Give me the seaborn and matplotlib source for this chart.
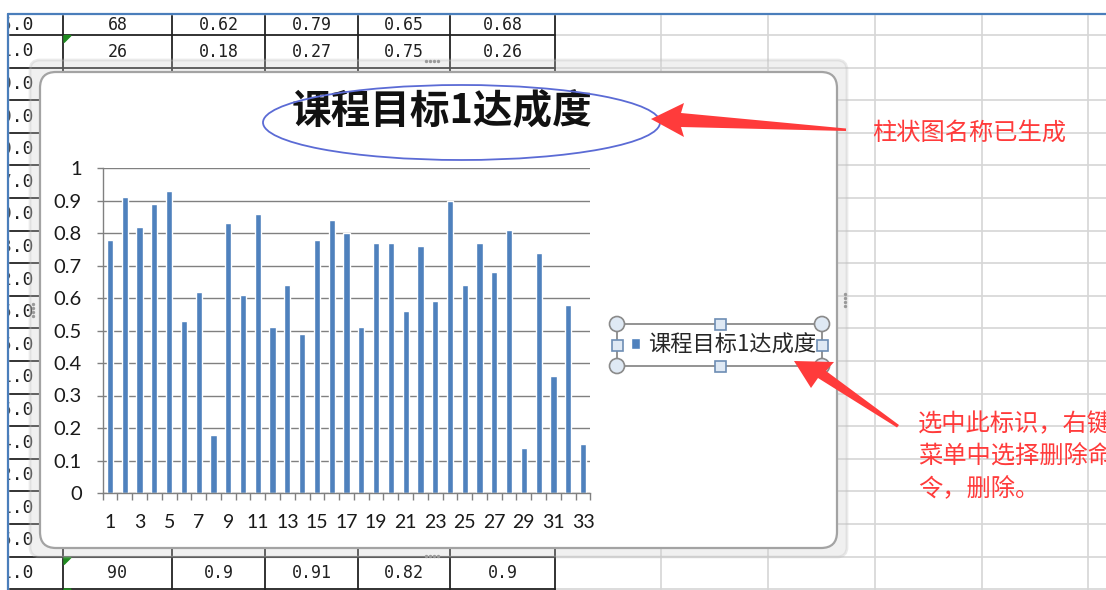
import numpy as np
import pandas as pd
import seaborn as sns
import matplotlib.pyplot as plt
from matplotlib.patches import FancyBboxPatch, Ellipse, Polygon, Rectangle, Circle

# ---- chart data ----
series_name = '课程目标1达成度'
students = [str(i) for i in range(1, 34)]
attainment = [0.78, 0.91, 0.82, 0.89, 0.93, 0.53, 0.62, 0.18, 0.83, 0.61, 0.86,
              0.51, 0.64, 0.49, 0.78, 0.84, 0.80, 0.51, 0.77, 0.77, 0.56, 0.76,
              0.59, 0.90, 0.64, 0.77, 0.68, 0.81, 0.14, 0.74, 0.36, 0.58, 0.15]
y_ticks = [0, 0.1, 0.2, 0.3, 0.4, 0.5, 0.6, 0.7, 0.8, 0.9, 1.0]
y_tick_labels = ['0', '0.1', '0.2', '0.3', '0.4', '0.5', '0.6', '0.7', '0.8', '0.9', '1']
x_tick_labels = [s if int(s) % 2 == 1 else '' for s in students]

# spreadsheet cells visible around the chart
top_rows = [['68', '0.62', '0.79', '0.65', '0.68'],
            ['26', '0.18', '0.27', '0.75', '0.26']]
bottom_row = ['90', '0.9', '0.91', '0.82', '0.9']
left_col = ['95.0', '81.0', '90.0', '90.0', '90.0', '77.0', '90.0', '83.0', '72.0',
            '65.0', '65.0', '81.0', '65.0', '74.0', '72.0', '81.0', '65.0', '81.0']

# callout notes
note_title = '柱状图名称已生成'
note_legend = ['选中此标识，右键', '菜单中选择删除命', '令，删除。']

bar_color = '#4F81BD'
red = '#FF3B3B'
W, H = 1106, 590

sns.set_style('white')
plt.rcParams['font.family'] = ['Lato', 'Noto Sans CJK SC', 'DejaVu Sans']

fig = plt.figure(figsize=(W / 100, H / 100), dpi=100)

# background layer in pixel coordinates (y down)
bg = fig.add_axes([0, 0, 1, 1])
bg.set_xlim(0, W)
bg.set_ylim(H, 0)
bg.axis('off')

row_lines = [35 + 32.6 * k for k in range(18)]
col_lines = [661, 768, 875, 982, 1088]
table_cols = [63, 172, 265, 358, 450, 555]

# excel grid
for y in row_lines:
    bg.plot([555, W], [y, y], color='#d6d6d6', lw=1.2, zorder=1)
for x in col_lines:
    bg.plot([x, x], [14, H], color='#d6d6d6', lw=1.2, zorder=1)
# table borders
for y in row_lines:
    bg.plot([8, 555], [y, y], color='#222222', lw=1.3, zorder=2)
for x in table_cols:
    bg.plot([x, x], [14, H], color='#222222', lw=1.3, zorder=2)

centers = [(table_cols[i] + table_cols[i + 1]) / 2 for i in range(5)]
mono = dict(family='DejaVu Sans Mono', fontsize=12, color='#202020', zorder=3)
for row, yc in zip(top_rows, [24.5, 52]):
    for txt, xc in zip(row, centers):
        bg.text(xc, yc, txt, ha='center', va='center', **mono)
for txt, xc in zip(bottom_row, centers):
    bg.text(xc, 573, txt, ha='center', va='center', **mono)
for k, txt in enumerate(left_col):
    yc = 24.5 if k == 0 else 35 + 32.6 * (k - 1) + 16.3
    bg.text(34, yc, txt, ha='right', va='center', family='DejaVu Sans Mono',
            fontsize=13, color='#202020', zorder=3)
bg.add_patch(Rectangle((0, 0), 7.5, H, color='white', zorder=4))
bg.add_patch(Rectangle((0, 0), W, 13.5, color='white', zorder=4))
for (x0, y0) in [(64, 35.5), (64, 557.5), (64, 589)]:
    bg.add_patch(Polygon([(x0, y0), (x0 + 7, y0), (x0, y0 + 7)], color='#1f8a1f', zorder=4))
bg.plot([8, W], [14, 14], color='#4a7ebb', lw=1.6, zorder=5)
bg.plot([8, 8], [14, H], color='#4a7ebb', lw=1.6, zorder=5)

# chart object frame
bg.add_patch(FancyBboxPatch((30, 60), 817, 497, boxstyle='round,pad=0,rounding_size=10',
                            facecolor='#cfcfcf', alpha=0.3, edgecolor='#bbbbbb', lw=2, zorder=6))
bg.add_patch(FancyBboxPatch((40, 72), 797, 476, boxstyle='round,pad=0,rounding_size=16',
                            facecolor='white', edgecolor='#a3a3a3', lw=1.6, zorder=7))
for (x0, y0) in [(432, 61), (432, 556)]:
    bg.scatter([x0 - 6, x0 - 2, x0 + 2, x0 + 6], [y0] * 4, s=2, color='#9a9a9a', zorder=8)
for (x0, y0) in [(33, 310), (845, 300)]:
    bg.scatter([x0] * 4, [y0 - 6, y0 - 2, y0 + 2, y0 + 6], s=2, color='#9a9a9a', zorder=8)

# title with the hand-drawn ellipse
bg.text(442, 112, series_name, ha='center', va='center', fontsize=28.5, fontweight='bold',
        family=['Noto Sans CJK SC', 'DejaVu Sans'], color='#111111', zorder=8)
bg.add_patch(Ellipse((461.5, 122.5), 397, 75, fill=False, edgecolor='#5b6bd5', lw=1.3, zorder=8))

# selection handles around the legend
bg.add_patch(Rectangle((617, 324), 205, 42, fill=False, edgecolor='#808080', lw=1.2, zorder=8))
for (x0, y0) in [(617, 324), (822, 324), (617, 366), (822, 366)]:
    bg.add_patch(Circle((x0, y0), 7.5, facecolor='#dfe9f4', edgecolor='#8a8a8a', lw=1.2, zorder=9))
for (x0, y0) in [(720, 324), (720, 366), (617, 345), (822, 345)]:
    bg.add_patch(Rectangle((x0 - 5.5, y0 - 5.5), 11, 11, facecolor='#dfe9f4',
                           edgecolor='#6d8db4', lw=1.2, zorder=9))

# red arrows and notes
bg.add_patch(Polygon([(651, 119), (684, 103), (681, 113), (846, 128.5), (846, 131),
                      (681, 127), (684, 137)], closed=True, color=red, lw=0, zorder=10))
bg.add_patch(Polygon([(794, 361), (834, 362), (826, 371), (899, 425), (897, 427.5),
                      (818, 378), (811, 388)], closed=True, color=red, lw=0, zorder=10))
cjk = ['Noto Sans CJK SC', 'DejaVu Sans']
bg.text(872, 133, note_title, ha='left', va='center', fontsize=17.5, color=red,
        family=cjk, zorder=10)
for line, yc in zip(note_legend, [424, 457, 489]):
    bg.text(918, yc, line, ha='left', va='center', fontsize=17.5, color=red,
            family=cjk, zorder=10)

# ---- the bar chart itself ----
left, right, top, bottom = 102.6, 590.4, 168, 493
ax = fig.add_axes([left / W, 1 - bottom / H, (right - left) / W, (bottom - top) / H])
ax.set_facecolor('none')
df = pd.DataFrame({'student': students, 'value': attainment})
sns.barplot(data=df, x='student', y='value', color=bar_color, saturation=1,
            width=0.42, ax=ax, label=series_name)
ax.set_xlim(-0.5, len(students) - 0.5)
ax.set_ylim(0, 1)
ax.set_yticks(y_ticks, y_tick_labels)
ax.set_xticks(range(len(students)), x_tick_labels)
ax.set_xticks(np.arange(-0.5, len(students), 1), minor=True)
ax.set_xlabel('')
ax.set_ylabel('')
ax.yaxis.grid(True, color='#808080', lw=1)
ax.set_axisbelow(True)
for s in ['top', 'right']:
    ax.spines[s].set_visible(False)
for s in ['left', 'bottom']:
    ax.spines[s].set_color('#808080')
    ax.spines[s].set_linewidth(1)
ax.tick_params(axis='y', length=4, width=1, color='#808080', pad=11, labelsize=14.5,
               labelcolor='#1a1a1a', left=True)
ax.tick_params(axis='x', which='major', length=0, pad=15, labelsize=14, labelcolor='#1a1a1a')
ax.tick_params(axis='x', which='minor', length=5, width=1, color='#808080', bottom=True)

ax.legend(loc='center left', bbox_to_anchor=(631 / W, 1 - 345 / H), bbox_transform=fig.transFigure,
          frameon=False, handlelength=0.42, handleheight=0.42, handletextpad=0.35,
          borderpad=0, borderaxespad=0, prop={'family': cjk, 'size': 16})

fig.savefig('out.png', dpi=100)
